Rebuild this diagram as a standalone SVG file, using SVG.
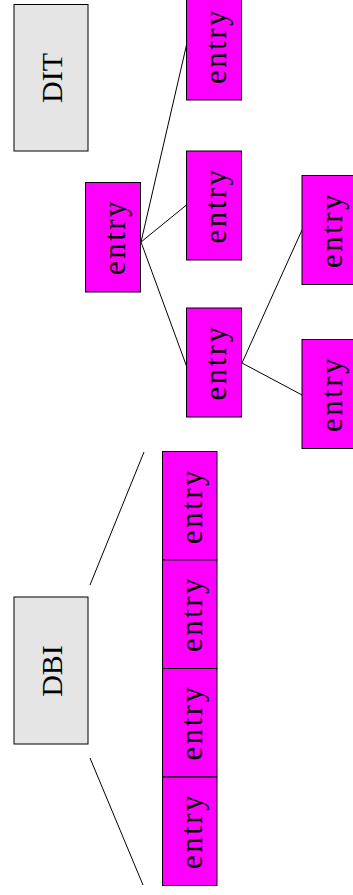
<svg xmlns="http://www.w3.org/2000/svg" width="353" height="895" viewBox="0 0 353 895">
  <style>
    .label { fill: #e5e5e5; stroke: #000; stroke-width: 1; }
    .entry { fill: #ff00ff; stroke: #000; stroke-width: 1; }
    .big { font-family: "Liberation Serif", "Times New Roman", serif; font-size: 30px; fill: #000; text-anchor: middle; }
    .ent { font-family: "Liberation Serif", "Times New Roman", serif; font-size: 31px; letter-spacing: 2.5px; fill: #000; text-anchor: middle; }
    .link { stroke: #000; stroke-width: 1; fill: none; }
  </style>

  <!-- connectors -->
  <g id="connectors">
    <line class="link" x1="141" y1="242" x2="186.5" y2="45"/>
    <line class="link" x1="141" y1="242" x2="186.5" y2="205"/>
    <line class="link" x1="141" y1="242" x2="186.5" y2="366"/>
    <line class="link" x1="242" y1="363" x2="302" y2="230"/>
    <line class="link" x1="242" y1="363" x2="302" y2="395"/>
    <line class="link" x1="90" y1="585" x2="144" y2="452"/>
    <line class="link" x1="90" y1="758" x2="143" y2="885"/>
  </g>

  <!-- DIT label -->
  <g id="dit">
    <rect class="label" x="14" y="4.5" width="74" height="146.5"/>
    <text class="big" transform="translate(51 78) rotate(-90)" y="11">DIT</text>
  </g>

  <!-- directory information tree -->
  <g id="entry-root">
    <rect class="entry" x="85.5" y="182.5" width="55" height="109.5"/>
    <text class="ent" transform="translate(113 237) rotate(-90)" y="12">entry</text>
  </g>
  <g id="entry-a">
    <rect class="entry" x="186.5" y="-9" width="55" height="109"/>
    <text class="ent" transform="translate(214 46) rotate(-90)" y="12">entry</text>
  </g>
  <g id="entry-b">
    <rect class="entry" x="186.5" y="151" width="55" height="109"/>
    <text class="ent" transform="translate(214 205.5) rotate(-90)" y="12">entry</text>
  </g>
  <g id="entry-c">
    <rect class="entry" x="186.5" y="308" width="55" height="109"/>
    <text class="ent" transform="translate(214 362.5) rotate(-90)" y="12">entry</text>
  </g>
  <g id="entry-d">
    <rect class="entry" x="302" y="175.5" width="55" height="109"/>
    <text class="ent" transform="translate(329.5 230) rotate(-90)" y="12">entry</text>
  </g>
  <g id="entry-e">
    <rect class="entry" x="302" y="339.5" width="55" height="109"/>
    <text class="ent" transform="translate(329.5 394) rotate(-90)" y="12">entry</text>
  </g>

  <!-- DBI label -->
  <g id="dbi">
    <rect class="label" x="14" y="597" width="74" height="147"/>
    <text class="big" transform="translate(51 671) rotate(-90)" y="11">DBI</text>
  </g>

  <!-- database index entries -->
  <g id="dbi-entry-1">
    <rect class="entry" x="162.5" y="451.5" width="54.5" height="108.5"/>
    <text class="ent" transform="translate(190 506) rotate(-90)" y="12">entry</text>
  </g>
  <g id="dbi-entry-2">
    <rect class="entry" x="162.5" y="560" width="54.5" height="108.5"/>
    <text class="ent" transform="translate(190 614) rotate(-90)" y="12">entry</text>
  </g>
  <g id="dbi-entry-3">
    <rect class="entry" x="162.5" y="668.5" width="54.5" height="108.5"/>
    <text class="ent" transform="translate(190 722.5) rotate(-90)" y="12">entry</text>
  </g>
  <g id="dbi-entry-4">
    <rect class="entry" x="162.5" y="777" width="54.5" height="108.5"/>
    <text class="ent" transform="translate(190 831) rotate(-90)" y="12">entry</text>
  </g>
</svg>
